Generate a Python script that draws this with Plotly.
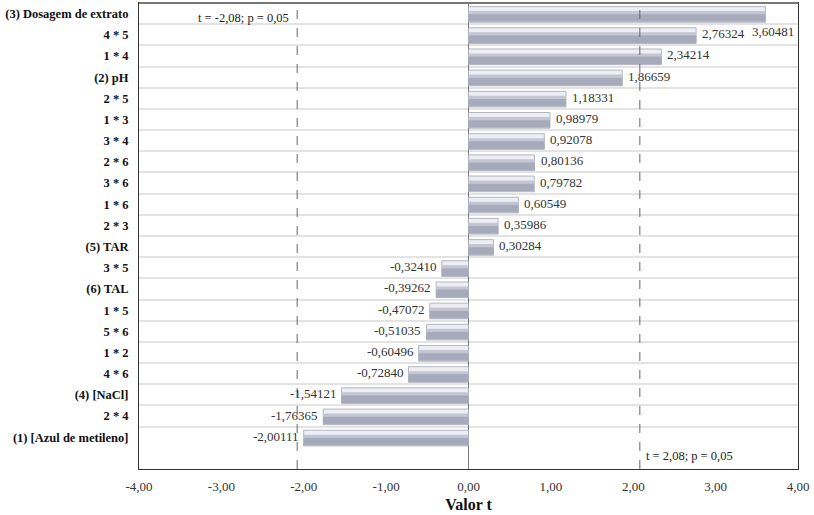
import plotly.graph_objects as go

categories = ["(3) Dosagem de extrato", "4 * 5", "1 * 4", "(2) pH", "2 * 5", "1 * 3", "3 * 4",
              "2 * 6", "3 * 6", "1 * 6", "2 * 3", "(5) TAR", "3 * 5", "(6) TAL", "1 * 5",
              "5 * 6", "1 * 2", "4 * 6", "(4) [NaCl]", "2 * 4", "(1) [Azul de metileno]"]
t_values = [3.60481, 2.76324, 2.34214, 1.86659, 1.18331, 0.98979, 0.92078, 0.80136, 0.79782,
            0.60549, 0.35986, 0.30284, -0.32410, -0.39262, -0.47072, -0.51035, -0.60496,
            -0.72840, -1.54121, -1.76365, -2.00111]
x_ticks = [-4, -3, -2, -1, 0, 1, 2, 3, 4]
x_tick_labels = [f"{v:.2f}".replace(".", ",") for v in x_ticks]
t_crit = 2.08

FONT = "Liberation Serif"

def fmt(v, d=5):
    return f"{v:.{d}f}".replace(".", ",")

fig = go.Figure()
# bar body (light top highlight)
fig.add_trace(go.Bar(
    y=categories, x=t_values, orientation="h",
    width=0.74, offset=-0.33,
    marker=dict(color="#eceef3", line=dict(color="#a3a7b4", width=0.8)),
    hoverinfo="skip", showlegend=False,
))
# middle shading
fig.add_trace(go.Bar(
    y=categories, x=t_values, orientation="h",
    width=0.22, offset=-0.12,
    marker=dict(color="#c4c7d3", line=dict(width=0)),
    hoverinfo="skip", showlegend=False,
))
# darker lower band
fig.add_trace(go.Bar(
    y=categories, x=t_values, orientation="h",
    width=0.36, offset=0.03,
    marker=dict(color="#a6aabb", line=dict(width=0)),
    hoverinfo="skip", showlegend=False,
))

annotations = []
lab_font = dict(family=FONT, size=13, color="#333")
for i, (c, v) in enumerate(zip(categories, t_values)):
    if i == 0:
        annotations.append(dict(x=v, y=c, text=fmt(v), showarrow=False, xanchor="center",
                                xshift=8, yshift=-18, font=lab_font))
    elif v >= 0:
        annotations.append(dict(x=v, y=c, text=fmt(v), showarrow=False, xanchor="left",
                                xshift=4, yshift=1, font=lab_font))
    else:
        annotations.append(dict(x=v, y=c, text=fmt(v), showarrow=False, xanchor="right",
                                xshift=-3, yshift=1, font=lab_font))

annotations.append(dict(x=-t_crit, y=categories[0], text=f"t = {fmt(-t_crit, 2)}; p = 0,05",
                        showarrow=False, xanchor="right", xshift=-6, yshift=-4,
                        font=dict(family=FONT, size=12.5, color="#222")))
annotations.append(dict(x=t_crit, y=21, text=f"t = {fmt(t_crit, 2)}; p = 0,05",
                        showarrow=False, xanchor="left", xshift=4, yshift=2,
                        font=dict(family=FONT, size=12.5, color="#222")))

shapes = []
for xv in (-t_crit, t_crit):
    shapes.append(dict(type="line", xref="x", yref="paper", x0=xv, x1=xv, y0=0, y1=1,
                       line=dict(color="#666", width=1, dash="dash")))
# slightly heavier grey top frame
shapes.append(dict(type="line", xref="paper", yref="paper", x0=0, x1=1, y0=1, y1=1,
                   line=dict(color="#777", width=2)))

fig.update_layout(
    width=814, height=515,
    margin=dict(l=139, r=16, t=3, b=46),
    paper_bgcolor="white", plot_bgcolor="white",
    barmode="overlay",
    annotations=annotations, shapes=shapes,
    xaxis=dict(range=[-4, 4], tickvals=x_ticks, ticktext=x_tick_labels,
               showgrid=False, zeroline=True, zerolinecolor="#777", zerolinewidth=1,
               showline=True, mirror=True, linecolor="#333", linewidth=1,
               ticks="", ticklabelstandoff=5,
               tickfont=dict(family=FONT, size=13, color="#333"),
               title=dict(text="<b>Valor t</b>", font=dict(family=FONT, size=16, color="#111"),
                          standoff=6)),
    yaxis=dict(type="category", categoryorder="array", categoryarray=categories,
               range=[21.5, -0.5], tickson="boundaries", showgrid=True,
               gridcolor="#e3e3e3", gridwidth=1.5, ticks="",
               showline=True, mirror=True, linecolor="#333", linewidth=1,
               tickprefix="<b>", ticksuffix="</b>", ticklabelstandoff=7,
               tickfont=dict(family=FONT, size=12.5, color="#111")),
)

fig.write_html("out.html")
